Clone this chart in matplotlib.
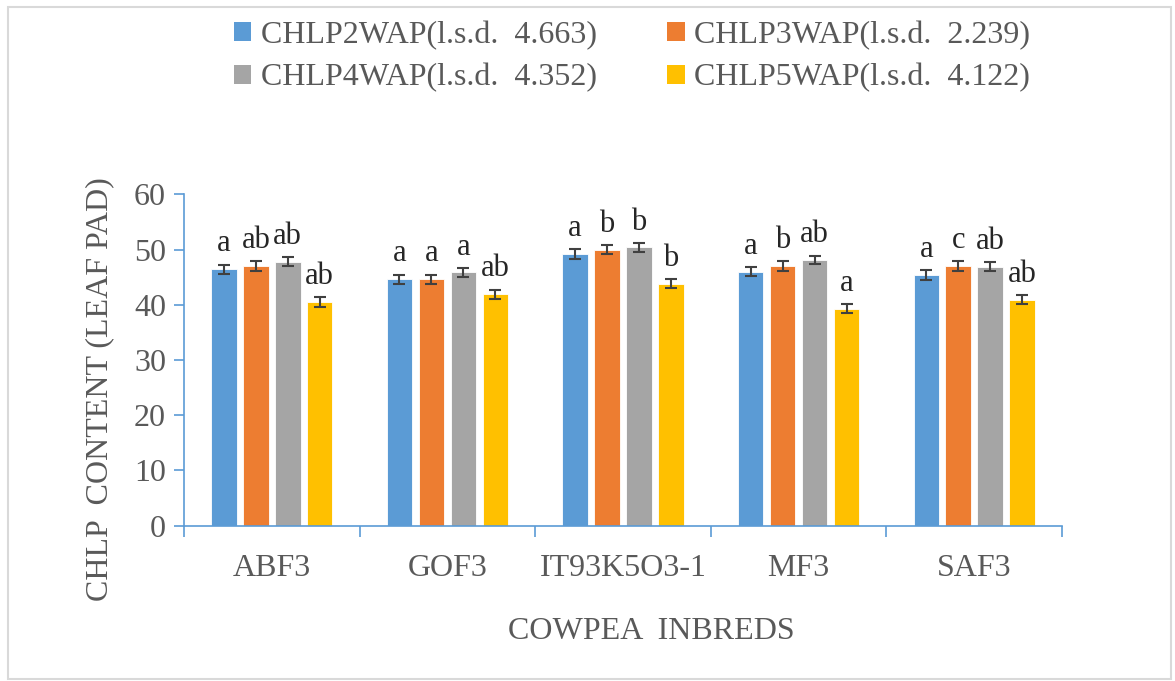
import matplotlib.pyplot as plt
import numpy as np
from matplotlib.patches import Patch, Rectangle

inbreds = ["ABF3", "GOF3", "IT93K5O3-1", "MF3", "SAF3"]
series = ["CHLP2WAP(l.s.d.  4.663)", "CHLP3WAP(l.s.d.  2.239)",
          "CHLP4WAP(l.s.d.  4.352)", "CHLP5WAP(l.s.d.  4.122)"]
chlp2 = [46.4, 44.6, 49.2, 46.0, 45.4]
chlp3 = [47.0, 44.6, 50.0, 47.0, 47.0]
chlp4 = [47.8, 45.9, 50.4, 48.1, 46.9]
chlp5 = [40.5, 41.9, 43.8, 39.3, 40.9]
err = [0.85, 0.85, 0.8, 0.85]
letters = [["a", "a", "a", "a", "a"],
           ["ab", "a", "b", "b", "c"],
           ["ab", "a", "b", "ab", "ab"],
           ["ab", "ab", "b", "a", "ab"]]
colors = ["#5B9BD5", "#ED7D31", "#A5A5A5", "#FFC000"]

plt.rcParams["font.family"] = ["Liberation Serif", "DejaVu Serif"]
txt = "#595959"
axis_blue = "#5B9BD5"

fig = plt.figure(figsize=(11.75, 6.81), dpi=100)
ax = fig.add_axes([0.1566, 0.228, 0.7472, 0.4867])

x = np.arange(len(inbreds))
width = 0.145
step = 0.182
handles = []
for i, vals in enumerate([chlp2, chlp3, chlp4, chlp5]):
    pos = x + (i - 1.5) * step
    ax.bar(pos, vals, width, color=colors[i], edgecolor="white", linewidth=0.6,
           yerr=err[i], capsize=4.5,
           error_kw=dict(ecolor="#404040", elinewidth=1.5, capthick=1.5))
    for p, v, lab in zip(pos, vals, letters[i]):
        ax.text(p, v + err[i] + 2.4, lab, ha="center", va="baseline",
                fontsize=22, color="#262626")
    handles.append(Patch(facecolor=colors[i], label=series[i]))

ax.set_xlim(-0.5, len(inbreds) - 0.5)
ax.set_ylim(0, 60)
ax.set_yticks(range(0, 61, 10))
ax.set_xticks(x)
ax.set_xticklabels(inbreds)
ax.set_xticks(np.arange(-0.5, len(inbreds), 1), minor=True)
ax.tick_params(axis="x", which="major", length=0, pad=20, labelsize=23, labelcolor=txt)
ax.tick_params(axis="x", which="minor", length=8, width=1.2, color=axis_blue, direction="out")
ax.tick_params(axis="y", length=7, width=1.2, color=axis_blue, labelsize=23,
               labelcolor=txt, pad=6)
for s in ["top", "right"]:
    ax.spines[s].set_visible(False)
for s in ["left", "bottom"]:
    ax.spines[s].set_color(axis_blue)
    ax.spines[s].set_linewidth(1.2)

ax.set_xlabel("COWPEA  INBREDS", fontsize=23, color=txt)
ax.xaxis.set_label_coords(0.532, -0.275)
ax.set_ylabel("CHLP  CONTENT (LEAF PAD)", fontsize=23, color=txt)
ax.yaxis.set_label_coords(-0.08, 0.413)

# legend filled row by row: 2, 3 on top, 4, 5 below
order = [0, 2, 1, 3]
fig.legend(handles=[handles[k] for k in order], ncol=2, loc="upper center",
           bbox_to_anchor=(0.538, 1.012), frameon=False, fontsize=23, labelcolor=txt,
           handlelength=0.55, handleheight=0.55, handletextpad=0.3,
           columnspacing=2.2, labelspacing=0.42)

fig.patches.append(Rectangle((0.007, 0.003), 0.99, 0.987, transform=fig.transFigure,
                             fill=False, edgecolor="#D9D9D9", linewidth=1.5))

fig.savefig("out.png", dpi=100)
